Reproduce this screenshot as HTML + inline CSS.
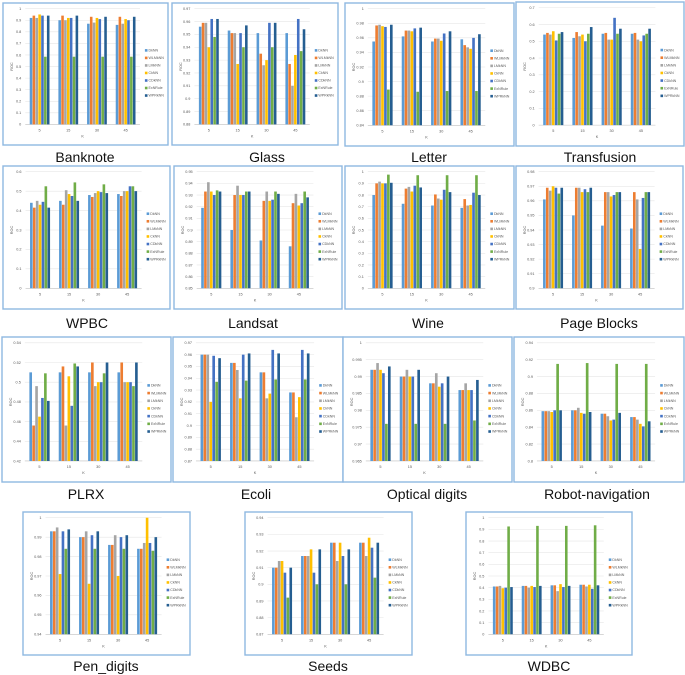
<!DOCTYPE html>
<html><head><meta charset="utf-8">
<style>
html,body{margin:0;padding:0;background:#fff;}
svg{display:block;font-family:"Liberation Sans",sans-serif;}
</style></head>
<body>
<svg id="fig" width="685" height="675" viewBox="0 0 685 675" xmlns="http://www.w3.org/2000/svg"></svg>
<script>
const categories = ["5","15","30","45"];
const seriesNames = ["DkNN","WLMkNN","LMkNN","CkNN","CDkNN","ExNRule","WPRkNN"];
const seriesColors = ["#5B9BD5","#ED7D31","#A5A5A5","#FFC000","#4472C4","#70AD47","#255E91"];
const chartTitles = ["Banknote","Glass","Letter","Transfusion","WPBC","Landsat","Wine","Page Blocks","PLRX","Ecoli","Optical digits","Robot-navigation","Pen_digits","Seeds","WDBC"];
// axis ranges [min, max, step]
const banknoteAxis=[0,1,0.1], glassAxis=[0.88,0.97,0.01], letterAxis=[0.84,1,0.02], transfusionAxis=[0,0.7,0.1];
const wpbcAxis=[0,0.6,0.1], landsatAxis=[0.85,0.95,0.01], wineAxis=[0,1,0.1], pageAxis=[0.9,0.98,0.01];
const plrxAxis=[0.42,0.54,0.02], ecoliAxis=[0.87,0.97,0.01], opticalAxis=[0.965,1,0.005], robotAxis=[0.8,0.94,0.02];
const penAxis=[0.94,1,0.01], seedsAxis=[0.87,0.94,0.01], wdbcAxis=[0,1,0.1];
// values: rows = series (DkNN..WPRkNN), cols = K
const banknoteVals=[[.92,.90,.87,.86],[.94,.94,.93,.93],[.92,.90,.88,.87],[.95,.92,.92,.91],[.94,.92,.91,.90],[.585,.585,.585,.585],[.94,.94,.93,.93]];
const glassVals=[[.956,.953,.951,.951],[.959,.951,.935,.927],[.959,.951,.926,.910],[.940,.927,.930,.934],[.962,.951,.959,.962],[.948,.940,.940,.937],[.962,.957,.959,.954]];
const letterVals=[[.955,.962,.955,.958],[.977,.970,.959,.950],[.978,.970,.959,.947],[.976,.969,.956,.945],[.975,.973,.966,.960],[.889,.886,.887,.887],[.978,.974,.969,.965]];
const transfusionVals=[[.54,.52,.545,.545],[.55,.555,.55,.55],[.54,.53,.51,.51],[.56,.54,.51,.50],[.505,.50,.64,.535],[.545,.545,.545,.545],[.555,.585,.575,.575]];
const wpbcVals=[[.44,.45,.48,.485],[.415,.43,.47,.475],[.45,.505,.49,.50],[.43,.485,.50,.50],[.445,.475,.495,.525],[.525,.545,.535,.525],[.415,.45,.49,.50]];
const landsatVals=[[.919,.90,.891,.886],[.933,.930,.925,.923],[.941,.938,.933,.931],[.933,.930,.925,.921],[.930,.930,.926,.923],[.934,.933,.933,.933],[.933,.933,.931,.928]];
const wineVals=[[.80,.725,.71,.69],[.90,.855,.805,.765],[.915,.87,.77,.71],[.90,.83,.76,.715],[.90,.88,.845,.82],[.975,.97,.97,.97],[.905,.865,.825,.80]];
const pageVals=[[.961,.950,.943,.941],[.969,.969,.966,.966],[.967,.969,.966,.961],[.970,.966,.963,.927],[.969,.968,.964,.962],[.965,.966,.966,.966],[.969,.969,.966,.966]];
const plrxVals=[[.51,.51,.51,.51],[.456,.516,.52,.52],[.496,.456,.496,.50],[.465,.506,.50,.50],[.484,.476,.50,.50],[.509,.519,.509,.496],[.481,.516,.52,.52]];
const ecoliVals=[[.96,.953,.945,.928],[.96,.953,.945,.928],[.96,.947,.923,.907],[.92,.923,.927,.924],[.959,.96,.964,.964],[.937,.938,.939,.939],[.957,.961,.961,.961]];
const opticalVals=[[.992,.990,.988,.986],[.992,.990,.988,.986],[.994,.992,.991,.988],[.992,.990,.987,.986],[.991,.990,.988,.986],[.976,.976,.976,.977],[.993,.992,.990,.989]];
const robotVals=[[.859,.86,.856,.852],[.859,.86,.856,.852],[.859,.863,.853,.849],[.858,.857,.848,.844],[.86,.856,.849,.841],[.915,.916,.915,.915],[.86,.858,.857,.847]];
const penVals=[[.993,.990,.986,.984],[.993,.990,.986,.984],[.995,.993,.991,.987],[.971,.966,.970,1.0],[.993,.991,.990,.987],[.984,.984,.984,.983],[.994,.993,.991,.990]];
const seedsVals=[[.910,.917,.925,.925],[.910,.917,.925,.925],[.914,.917,.914,.917],[.914,.921,.925,.928],[.907,.907,.917,.922],[.892,.90,.90,.904],[.910,.921,.921,.925]];
const wdbcVals=[[.41,.415,.42,.425],[.41,.415,.42,.425],[.415,.40,.37,.41],[.395,.415,.43,.425],[.40,.405,.405,.39],[.925,.93,.93,.935],[.405,.415,.415,.42]];

const chartVals=[banknoteVals,glassVals,letterVals,transfusionVals,wpbcVals,landsatVals,wineVals,pageVals,plrxVals,ecoliVals,opticalVals,robotVals,penVals,seedsVals,wdbcVals];
const chartAxes=[banknoteAxis,glassAxis,letterAxis,transfusionAxis,wpbcAxis,landsatAxis,wineAxis,pageAxis,plrxAxis,ecoliAxis,opticalAxis,robotAxis,penAxis,seedsAxis,wdbcAxis];
// layout: box [x,y,w,h], title [cx,cy]
const boxes=[[3,3,165,142],[172,3,166,142],[345,3,169,143],[516,2,168,144],
 [3,166,167,143],[174,166,168,143],[345,166,169,143],[516,166,167,143],
 [2,337,169,145],[173,337,170,145],[343,337,169,145],[514,337,170,145],
 [23,512,167,143],[245,512,167,143],[466,512,166,143]];
const titlePos=[[85,162],[267,162],[429,162],[600,162],[87,328],[253,328],[428,328],[599,328],[86,499],[256,499],[427,499],[597,499],[106,671],[328,671],[549,671]];

const NS="http://www.w3.org/2000/svg";
const svg=document.getElementById("fig");
function mk(tag,attrs,parent){const e=document.createElementNS(NS,tag);for(const k in attrs)e.setAttribute(k,attrs[k]);(parent||svg).appendChild(e);return e;}
function fmt(v){return String(parseFloat(v.toFixed(4)));}

chartVals.forEach((vals,ci)=>{
  const [bx,by,bw,bh]=boxes[ci];
  const ax=chartAxes[ci];
  const slug=chartTitles[ci].toLowerCase().replace(/[^a-z]+/g,"-");
  const g=mk("g",{});
  
  
  const frame=mk("rect",{x:bx,y:by,width:bw,height:bh,fill:"#fff",stroke:"#8FB8E0","stroke-width":1.4},g);
  
  
  const pl=bx+0.135*bw, pr=bx+0.83*bw, pt=by+0.04*bh, pb=by+0.855*bh;
  const [mn,mx,st]=ax;
  const yScale=v=>pb-(v-mn)/(mx-mn)*(pb-pt);
  const n=Math.round((mx-mn)/st);
  for(let i=0;i<=n;i++){
    const v=mn+i*st, y=yScale(v);
    const gl=mk("line",{x1:pl,x2:pr,y1:y,y2:y,stroke:i===0?"#bfbfbf":"#e6e6e6","stroke-width":0.6},g);
    
    
    const t=mk("text",{x:pl-4,y:y+1.3,"font-size":3.8,"text-anchor":"end",fill:"#595959"},g);
    t.textContent=fmt(v);
    
    
  }
  const yt=mk("text",{x:bx+0.06*bw,y:(pt+pb)/2,"font-size":3.8,"text-anchor":"middle",fill:"#595959",transform:`rotate(-90 ${bx+0.06*bw} ${(pt+pb)/2})`},g);
  yt.textContent="ROC";
  
  
  const gw=(pr-pl)/categories.length, bwid=gw*0.7/seriesNames.length;
  categories.forEach((c,k)=>{
    const gx=pl+gw*k+gw*0.15;
    vals.forEach((row,s)=>{
      const v=row[k], y=yScale(v);
      const r=mk("rect",{x:gx+s*bwid+0.15,y:y,width:Math.max(bwid-0.3,0.5),height:Math.max(pb-y,0),fill:seriesColors[s]},g);
      
      
    });
    const xt=mk("text",{x:pl+gw*(k+0.5),y:pb+7,"font-size":3.8,"text-anchor":"middle",fill:"#595959"},g);
    xt.textContent=c;
    
    
  });
  const xk=mk("text",{x:(pl+pr)/2,y:pb+13,"font-size":3.8,"text-anchor":"middle",fill:"#595959"},g);
  xk.textContent="K";
  
  
  seriesNames.forEach((nm,s)=>{
    const lx=bx+0.86*bw, ly=by+0.34*bh+s*0.053*bh;
    const le=mk("g",{},g);
    
    
    mk("rect",{x:lx,y:ly-2.2,width:2.6,height:2.6,fill:seriesColors[s]},le);
    const lt=mk("text",{x:lx+3.6,y:ly+0.3,"font-size":3.6,fill:"#595959"},le);
    lt.textContent=nm;
  });
  const tt=mk("text",{x:titlePos[ci][0],y:titlePos[ci][1],"font-size":14,"text-anchor":"middle",fill:"#111"});
  tt.textContent=chartTitles[ci];
  
  
});
</script>
</body></html>
